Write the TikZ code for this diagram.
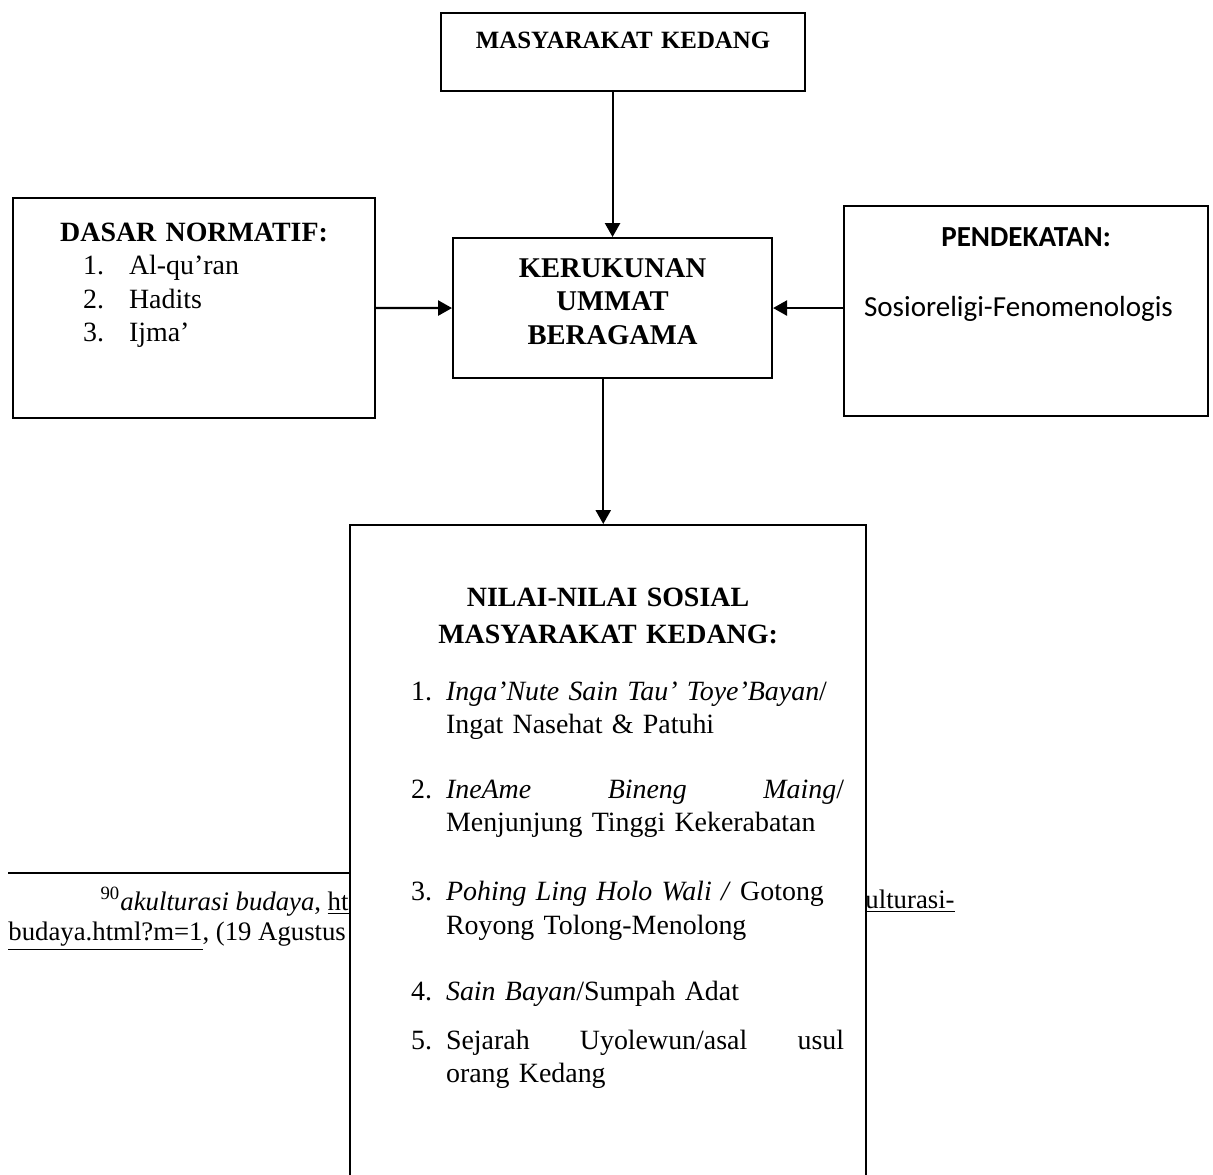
\documentclass[tikz,border=0pt]{standalone}
\usepackage{fontspec}
\setmainfont{Liberation Serif}
\newfontfamily\calibri{Carlito}
\usetikzlibrary{arrows.meta, calc}

\newcommand{\dnum}[2]{\hspace*{30.1pt}\makebox[19.78pt][l]{#1}#2}
\newcommand{\nnum}[2]{\hspace*{26.23pt}\makebox[15.05pt][l]{#1}#2}
\newcommand{\nfill}[2]{\hspace*{26.23pt}\makebox[15.05pt][l]{#1}\makebox[171.14pt][l]{#2}}
\newcommand{\ncont}[1]{\hspace*{41.28pt}#1}

\begin{document}
\begin{tikzpicture}[x=0.43pt, y=-0.43pt,
        font=\fontsize{12}{14.4}\selectfont, >=Triangle,
        box/.style={draw, line width=0.9pt, fill=white, anchor=north west, inner xsep=0pt, inner ysep=0pt},
        fn/.style={inner sep=0pt, font=\fontsize{11.5}{13.8}\selectfont},
        arr/.style={-{Triangle[length=6pt, width=6.5pt]}, line width=0.9pt}]
  \useasboundingbox (0,0) rectangle (1213,1175);
  \clip (0,0) rectangle (1213,1175);
  \node[box, align=center, text width=156.52pt, text height=15.05pt, text depth=18.49pt,
        font=\fontsize{10.7}{12.8}\selectfont\bfseries] (masy) at (440,12) {MASYARAKAT KEDANG};
  \node[box, align=center, text width=137.17pt, text height=16.77pt, text depth=43.43pt,
        font=\fontsize{12.3}{14.4}\selectfont\bfseries] (keruk) at (452,237) {KERUKUNAN\\UMMAT\\BERAGAMA};
  \node[box, align=left, text width=155.66pt, text height=18.49pt, text depth=76.11pt] (dasar) at (12,197)
        {{\centering\bfseries DASAR NORMATIF:\par}
         \dnum{1.}{Al-qu'ran}\\ \dnum{2.}{Hadits}\\ \dnum{3.}{Ijma'}};
  \node[box, align=left, text width=156.52pt, text height=17.2pt, text depth=73.1pt,
        font=\calibri\fontsize{12.5}{14.4}\selectfont] (pendek) at (843,205)
        {{\centering\bfseries PENDEKATAN:\par}\vspace{15.7pt}\hspace*{8.6pt}Sosioreligi-Fenomenologis};

  \draw[line width=0.9pt] (8,873) -- (349,873);
  \node[fn, anchor=base east] (fnA) at (349,910) {\textsuperscript{90}\textit{akulturasi budaya}, \underline{ht}};
  \node[fn, anchor=base west] (fnB) at (8,940) {\underline{budaya.html?m=1}, (19 Agustus};
  \node[fn, anchor=base west] (fnC) at (865,908) {\underline{ulturasi-}};

  \node[box, align=left, text width=221.88pt, text height=34.83pt, text depth=251.6pt] (nilai) at (349,524)
        {{\centering\bfseries NILAI-NILAI SOSIAL\\[1.5pt]MASYARAKAT KEDANG:\par}\vspace{10.1pt}
         \nnum{1.}{\textit{Inga'Nute Sain Tau' Toye'Bayan}/}\\
         \ncont{Ingat Nasehat \& Patuhi}\\[13.55pt]
         \nfill{2.}{\textit{IneAme}\hfill\textit{Bineng}\hfill\textit{Maing}/}\\
         \ncont{Menjunjung Tinggi Kekerabatan}\\[15.27pt]
         \nnum{3.}{\textit{Pohing Ling Holo Wali /} Gotong}\\
         \ncont{Royong Tolong-Menolong}\\[13.98pt]
         \nnum{4.}{\textit{Sain Bayan}/Sumpah Adat}\\[6.67pt]
         \nfill{5.}{Sejarah\hfill Uyolewun/asal\hfill usul}\\
         \ncont{orang Kedang}};

  \draw[arr] (keruk.north |- masy.south) -- (keruk.north);
  \draw[arr] (dasar.east) -- (keruk.west);
  \draw[arr] (pendek.west |- keruk.east) -- (keruk.east);
  \draw[arr] ($(keruk.south)+(-4pt,0)$) -- ($(keruk.south |- nilai.north)+(-4pt,0)$);
\end{tikzpicture}
\end{document}
